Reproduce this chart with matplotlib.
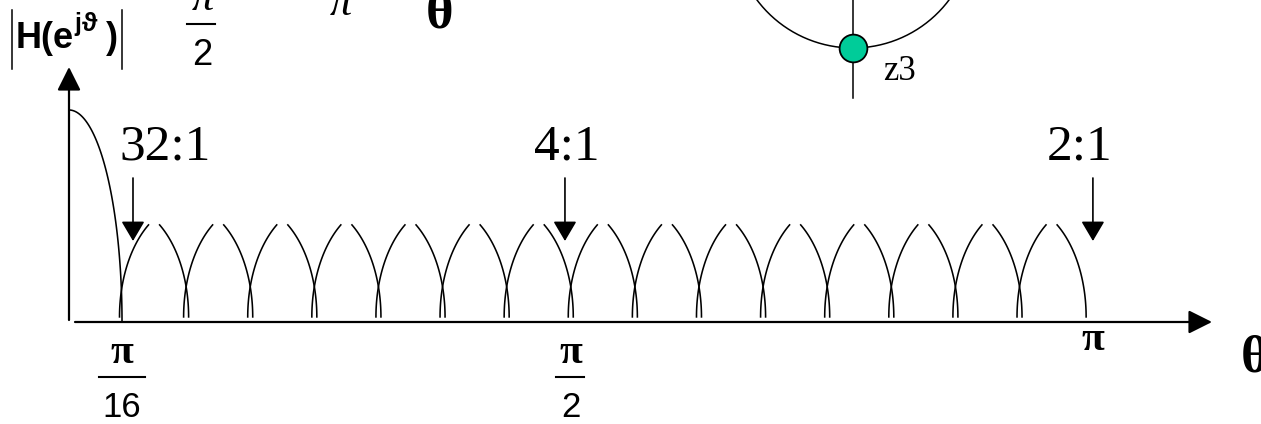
import numpy as np
import matplotlib

matplotlib.use("Agg")
import matplotlib.pyplot as plt  # noqa: E402

plt.rcParams["font.family"] = ["Liberation Serif", "DejaVu Serif"]

# --- data ---
null_index = [1, 2, 3, 4, 5, 6, 7, 8, 9, 10, 11, 12, 13, 14, 15, 16]  # nulls at k*pi/16
main_lobe_peak = 1.0
sidelobe_top = 0.434          # visible height of the side-lobe arcs
sidelobe_floor = 0.024        # arcs stop just above the axis
ratio_labels = ["32:1", "4:1", "2:1"]
ratio_theta = [0.230, 1.553, 3.170]
tick_theta = [np.pi / 16, np.pi / 2, np.pi]
tick_num = ["π", "π", "π"]
tick_den = ["16", "2", None]
z_points = [(0.0, -1.0)]
z_labels = ["z3"]

# --- layout (pixels of the 1261x424 picture) ---
W, H = 1261, 424
X0, PX_RAD = 57.9, 326.5      # theta = 0 and px per radian
Y0, PX_MAG = 322, 212         # baseline and px per magnitude unit


def tx(px):
    return (px - X0) / PX_RAD


def my(py):
    return (Y0 - py) / PX_MAG


fig = plt.figure(figsize=(W / 100, H / 100), dpi=100)
ax = fig.add_axes([0, 0, 1, 1])
ax.set_xlim(tx(0), tx(W))
ax.set_ylim(my(H), my(0))
ax.axis("off")

null_theta = np.pi / 16 * np.array(null_index)
y_axis_theta = tx(69)

# axes with arrow heads
head = dict(arrowstyle="-|>,head_length=0.72,head_width=0.36", mutation_scale=20,
            color="black", lw=1.6, shrinkA=0, shrinkB=0)
ax.annotate("", xy=(y_axis_theta, my(67)), xytext=(y_axis_theta, my(320)), arrowprops=head)
ax.annotate("", xy=(tx(1212), 0), xytext=(tx(75), 0), arrowprops=head)

# main lobe: quarter ellipse from the peak down to the first null
t = np.linspace(0, np.pi / 2, 100)
ax.plot(y_axis_theta + (null_theta[0] - y_axis_theta) * np.sin(t),
        main_lobe_peak * np.cos(t), color="black", lw=1.15)

# side lobes: two arcs per lobe, tops left open
A = 68 / PX_RAD
t0 = np.radians(55)
B = sidelobe_top / np.sin(t0)
d = 2.5 / PX_RAD
ta = np.linspace(0, t0, 60)
for left, right in zip(null_theta[:-1], null_theta[1:]):
    ax.plot(left - d + A * (1 - np.cos(ta)), sidelobe_floor + B * np.sin(ta),
            color="black", lw=1.15)
    ax.plot(right + d - A * (1 - np.cos(ta)), sidelobe_floor + B * np.sin(ta),
            color="black", lw=1.15)

# ratio arrows and labels
small = dict(arrowstyle="-|>,head_length=0.61,head_width=0.36", mutation_scale=20,
             color="black", lw=1.2, shrinkA=0, shrinkB=0)
label_dx = [32, 2, -13]
for lab, th, dx in zip(ratio_labels, ratio_theta, label_dx):
    ax.annotate("", xy=(th, my(241)), xytext=(th, my(178)), arrowprops=small)
    ax.text(th + dx / PX_RAD, my(160), lab, fontsize=37, ha="center", va="baseline")

# tick labels below the axis
for th, num, den in zip(tick_theta, tick_num, tick_den):
    if den is None:
        ax.text(th + 9 / PX_RAD, my(350), num, fontsize=30, fontweight="bold",
                ha="center", va="baseline")
        continue
    ax.text(th, my(363), num, fontsize=30, fontweight="bold", ha="center", va="baseline")
    ax.plot([th - 23 / PX_RAD, th + 23 / PX_RAD] if den == "16" else
            [th - 15 / PX_RAD, th + 13 / PX_RAD], [my(377)] * 2, color="black", lw=1.5)
    ax.text(th, my(417), den, fontsize=25, family="Liberation Sans", ha="center",
            va="baseline")

ax.text(tx(1241), my(372), "θ", fontsize=38, fontweight="bold", ha="left", va="baseline")

# |H(e^jθ)| label
sans = ["Liberation Sans", "DejaVu Sans"]
for xb in (12, 122):
    ax.plot([tx(xb), tx(xb)], [my(10), my(69)], color="black", lw=1.1)
ax.text(tx(16), my(48), "H(e", fontsize=26, fontweight="bold", family=sans, va="baseline")
ax.text(tx(74), my(31), "j", fontsize=18, fontweight="bold", family=sans, va="baseline")
ax.text(tx(82), my(31), "ϑ", fontsize=19, fontweight="bold", family=sans, va="baseline")
ax.text(tx(106), my(48), ")", fontsize=26, fontweight="bold", family=sans, va="baseline")

# fragments cut off at the top edge
ax.plot([tx(187), tx(215)], [my(24)] * 2, color="black", lw=1.5)
ax.text(tx(202), my(65), "2", fontsize=26, family=sans, ha="center", va="baseline")
ax.text(tx(203), my(10), "π", fontsize=32, style="italic", ha="center", va="baseline")
ax.text(tx(341), my(15), "π", fontsize=32, style="italic", ha="center", va="baseline")
ax.text(tx(440), my(28), "θ", fontsize=38, fontweight="bold", ha="center", va="baseline")

# z-plane inset (unit circle = 120 px)
R = 120
cx, cy = 853, -72
zax = fig.add_axes([(cx - 1.3 * R) / W, 1 - (cy + 1.5 * R) / H, 2.6 * R / W, 3.0 * R / H])
zax.set_xlim(-1.3, 1.3)
zax.set_ylim(-1.5, 1.5)
zax.axis("off")
ang = np.linspace(0, 2 * np.pi, 400)
zax.plot(np.cos(ang), np.sin(ang), color="black", lw=1.1)
zax.plot([0, 0], [-(98 - cy) / R, 1.5], color="black", lw=1.1)
for (zx, zy), lab in zip(z_points, z_labels):
    zax.plot(zx, zy, "o", ms=20, mfc="#00CC99", mec="black", mew=1.3, zorder=3)
    zax.text(zx + 0.25, zy - 0.27, lab, fontsize=25, ha="left", va="baseline")

fig.savefig("out.png", dpi=100)
